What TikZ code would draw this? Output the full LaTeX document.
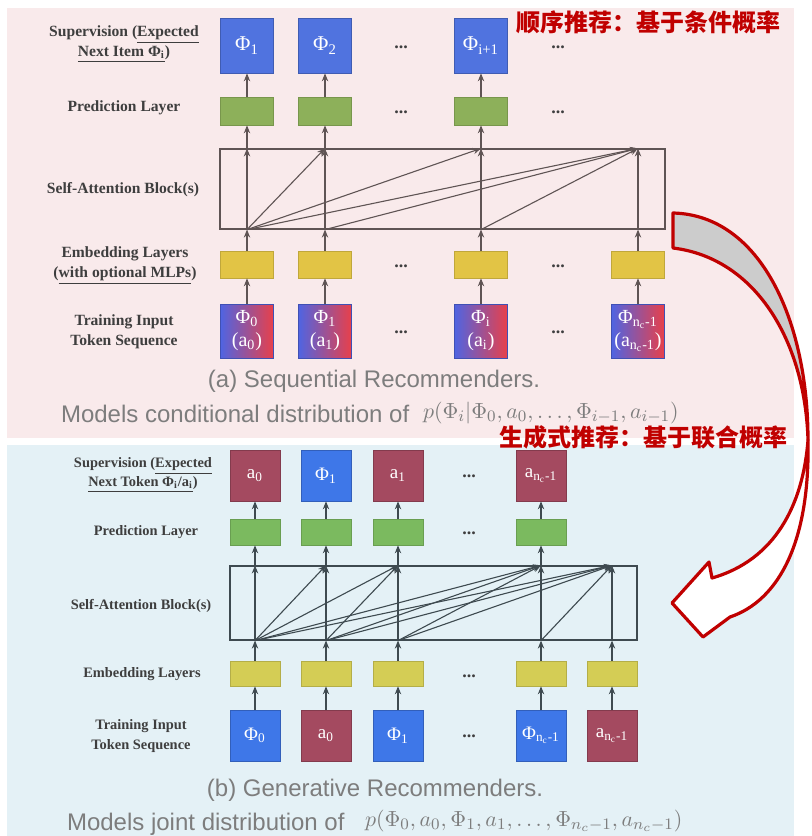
\documentclass[tikz,border=0pt]{standalone}
\usepackage{fontspec}
\setmainfont{Liberation Serif}
\newfontfamily\capfont{Liberation Sans}
\newfontfamily\cjk{Noto Sans CJK SC}
\usetikzlibrary{arrows.meta}
\definecolor{pinkbg}{RGB}{249,234,235}
\definecolor{bluebg}{RGB}{228,241,246}
\definecolor{csup}{RGB}{80,115,223}
\definecolor{ctokblue}{RGB}{62,119,232}
\definecolor{ctokred}{RGB}{164,74,96}
\definecolor{cpredA}{RGB}{141,176,90}
\definecolor{cpredB}{RGB}{123,186,95}
\definecolor{cembA}{RGB}{226,196,69}
\definecolor{cembB}{RGB}{212,205,85}
\definecolor{cgradblue}{RGB}{80,100,225}
\definecolor{cgradred}{RGB}{232,64,74}
\definecolor{clineA}{RGB}{95,84,84}
\definecolor{clineB}{RGB}{62,74,80}
\definecolor{clabel}{RGB}{62,62,62}
\definecolor{ccap}{RGB}{125,125,125}
\definecolor{chint}{RGB}{192,0,0}
\tikzset{%
    blk/.style={draw,line width=0.3pt,inner sep=0pt,text=white,align=center},
    supA/.style={blk,minimum width=26.5pt,minimum height=27.5pt,fill=csup,draw=csup!80!black,font=\fontsize{10.5}{11.5}\selectfont},
    predA/.style={blk,minimum width=26.5pt,minimum height=14pt,fill=cpredA,draw=cpredA!85!black},
    embA/.style={blk,minimum width=26.5pt,minimum height=13.5pt,fill=cembA,draw=cembA!85!black},
    inA/.style={blk,minimum width=26.5pt,minimum height=27pt,left color=cgradblue,right color=cgradred,draw=cgradblue!80!black,font=\fontsize{10}{11.5}\selectfont},
    tokB/.style={blk,minimum width=25pt,minimum height=25.5pt,font=\fontsize{9.5}{10}\selectfont},
    blueB/.style={tokB,fill=ctokblue,draw=ctokblue!80!black},
    redB/.style={tokB,fill=ctokred,draw=ctokred!80!black},
    predB/.style={blk,minimum width=25pt,minimum height=13pt,fill=cpredB,draw=cpredB!85!black},
    embB/.style={blk,minimum width=25pt,minimum height=12.5pt,fill=cembB,draw=cembB!85!black},
    lblA/.style={font=\bfseries\fontsize{7.8}{10}\selectfont,text=clabel,align=center},
    lblB/.style={font=\bfseries\fontsize{7.2}{9.8}\selectfont,text=clabel,align=center},
    dots/.style={font=\bfseries\fontsize{9}{9}\selectfont,text=clabel},
    attbox/.style={draw,line width=0.6pt,inner sep=0pt},
    arrA/.style={-{Stealth[length=4pt,width=3.2pt]},line width=0.55pt,draw=clineA},
    arrB/.style={-{Stealth[length=4pt,width=3.2pt]},line width=0.55pt,draw=clineB},
    captext/.style={font=\capfont\fontsize{12}{14}\selectfont,text=ccap},
    mathtext/.style={font=\fontsize{11.3}{13}\selectfont,text=ccap},
    hint/.style={font=\cjk\bfseries\fontsize{12}{14}\selectfont,text=chint},
    bigarr/.style={draw=chint,line width=1.6pt,line join=round}
}

\begin{document}
\begin{tikzpicture}[x=0.5pt,y=-0.5pt]
        \useasboundingbox (0,0) rectangle (811,836);
        \fill[pinkbg] (7,8) rectangle (794,438);
        \fill[bluebg] (7,445) rectangle (794,836);

        % (a) sequential recommenders
        \node[lblA] (l1a) at (124,44) {Supervision (\underline{Expected}\\\underline{Next Item Φ\textsubscript{i}})};
        \node[lblA] (l2a) at (124,108) {Prediction Layer};
        \node[lblA] (l3a) at (123,190) {Self-Attention Block(s)};
        \node[lblA] (l4a) at (125,266) {Embedding Layers\\(\underline{with optional MLPs})};
        \node[lblA] (l5a) at (124,332) {Training Input\\Token Sequence};

        \node[supA] (s1a) at (247,45.5) {Φ\textsubscript{1}};
        \node[supA] (s2a) at (325,45.5) {Φ\textsubscript{2}};
        \node[supA] (s3a) at (481,45.5) {Φ\textsubscript{i+1}};
        \node[dots] (ds1a) at (401,47) {...};
        \node[dots] (ds2a) at (558,47) {...};

        \node[predA] (p1a) at (247,111) {};
        \node[predA] (p2a) at (325,111) {};
        \node[predA] (p3a) at (481,111) {};
        \node[dots] (dp1a) at (401,112) {...};
        \node[dots] (dp2a) at (558,112) {...};

        \node[attbox,draw=clineA,minimum width=222.5pt,minimum height=40pt] (attA) at (442.5,189) {};

        \node[embA] (e1a) at (247,264.5) {};
        \node[embA] (e2a) at (325,264.5) {};
        \node[embA] (e3a) at (481,264.5) {};
        \node[embA] (e4a) at (638,264.5) {};
        \node[dots] (de1a) at (401,266) {...};
        \node[dots] (de2a) at (558,266) {...};

        \node[inA] (t1a) at (247,331) {Φ\textsubscript{0}\\(a\textsubscript{0})};
        \node[inA] (t2a) at (325,331) {Φ\textsubscript{1}\\(a\textsubscript{1})};
        \node[inA] (t3a) at (481,331) {Φ\textsubscript{i}\\(a\textsubscript{i})};
        \node[inA] (t4a) at (638,331) {Φ\textsubscript{n\textsubscript{c}-1}\\(a\textsubscript{n\textsubscript{c}-1})};
        \node[dots] (dt1a) at (401,332) {...};
        \node[dots] (dt2a) at (558,332) {...};

        \draw[arrA] (t1a) -- (e1a);
        \draw[arrA] (t2a) -- (e2a);
        \draw[arrA] (t3a) -- (e3a);
        \draw[arrA] (t4a) -- (e4a);

        \draw[arrA] (e1a) -- (e1a |- attA.south);
        \draw[arrA] (e2a) -- (e2a |- attA.south);
        \draw[arrA] (e3a) -- (e3a |- attA.south);
        \draw[arrA] (e4a) -- (e4a |- attA.south);

        \draw[arrA] (e1a |- attA.south) -- (e1a |- attA.north);
        \draw[arrA] (e2a |- attA.south) -- (e2a |- attA.north);
        \draw[arrA] (e3a |- attA.south) -- (e3a |- attA.north);
        \draw[arrA] (e4a |- attA.south) -- (e4a |- attA.north);

        \draw[arrA] (e1a |- attA.south) -- (e2a |- attA.north);
        \draw[arrA] (e1a |- attA.south) -- (e3a |- attA.north);
        \draw[arrA] (e1a |- attA.south) -- (e4a |- attA.north);
        \draw[arrA] (e2a |- attA.south) -- (e4a |- attA.north);
        \draw[arrA] (e3a |- attA.south) -- (e4a |- attA.north);

        \draw[arrA] (p1a |- attA.north) -- (p1a);
        \draw[arrA] (p2a |- attA.north) -- (p2a);
        \draw[arrA] (p3a |- attA.north) -- (p3a);

        \draw[arrA] (p1a) -- (s1a);
        \draw[arrA] (p2a) -- (s2a);
        \draw[arrA] (p3a) -- (s3a);

        \node[captext,anchor=base] (capa) at (374,387) {(a) Sequential Recommenders.};
        \node[captext,anchor=base west] (moda) at (54,422) {Models conditional distribution of};
        \node[mathtext,anchor=base west] (pa) at (416,418) {$p(\Phi_i|\Phi_0,a_0,\ldots,\Phi_{i-1},a_{i-1})$};

        % (b) generative recommenders
        \node[lblB] (l1b) at (143,475) {Supervision (\underline{Expected}\\\underline{Next Token Φ\textsubscript{i}/a\textsubscript{i}})};
        \node[lblB] (l2b) at (146,532) {Prediction Layer};
        \node[lblB] (l3b) at (141,606) {Self-Attention Block(s)};
        \node[lblB] (l4b) at (142,674) {Embedding Layers};
        \node[lblB] (l5b) at (141,736) {Training Input\\Token Sequence};

        \node[redB] (s1b) at (255,475.5) {a\textsubscript{0}};
        \node[blueB] (s2b) at (326,475.5) {Φ\textsubscript{1}};
        \node[redB] (s3b) at (398,475.5) {a\textsubscript{1}};
        \node[redB] (s4b) at (541,475.5) {a\textsubscript{n\textsubscript{c}-1}};
        \node[dots] (ds1b) at (469,476) {...};

        \node[predB] (p1b) at (255,532) {};
        \node[predB] (p2b) at (326,532) {};
        \node[predB] (p3b) at (398,532) {};
        \node[predB] (p4b) at (541,532) {};
        \node[dots] (dp1b) at (469,533) {...};

        \node[attbox,draw=clineB,minimum width=203.5pt,minimum height=37pt] (attB) at (433.5,603) {};

        \node[embB] (e1b) at (255,673.5) {};
        \node[embB] (e2b) at (326,673.5) {};
        \node[embB] (e3b) at (398,673.5) {};
        \node[embB] (e4b) at (541,673.5) {};
        \node[embB] (e5b) at (612,673.5) {};
        \node[dots] (de1b) at (469,676) {...};

        \node[blueB] (t1b) at (255,735.5) {Φ\textsubscript{0}};
        \node[redB] (t2b) at (326,735.5) {a\textsubscript{0}};
        \node[blueB] (t3b) at (398,735.5) {Φ\textsubscript{1}};
        \node[blueB] (t4b) at (541,735.5) {Φ\textsubscript{n\textsubscript{c}-1}};
        \node[redB] (t5b) at (612,735.5) {a\textsubscript{n\textsubscript{c}-1}};
        \node[dots] (dt1b) at (469,736) {...};

        \draw[arrB] (t1b) -- (e1b);
        \draw[arrB] (t2b) -- (e2b);
        \draw[arrB] (t3b) -- (e3b);
        \draw[arrB] (t4b) -- (e4b);
        \draw[arrB] (t5b) -- (e5b);

        \draw[arrB] (e1b) -- (e1b |- attB.south);
        \draw[arrB] (e2b) -- (e2b |- attB.south);
        \draw[arrB] (e3b) -- (e3b |- attB.south);
        \draw[arrB] (e4b) -- (e4b |- attB.south);
        \draw[arrB] (e5b) -- (e5b |- attB.south);

        \draw[arrB] (e1b |- attB.south) -- (e1b |- attB.north);
        \draw[arrB] (e2b |- attB.south) -- (e2b |- attB.north);
        \draw[arrB] (e3b |- attB.south) -- (e3b |- attB.north);
        \draw[arrB] (e4b |- attB.south) -- (e4b |- attB.north);
        \draw[arrB] (e5b |- attB.south) -- (e5b |- attB.north);

        \draw[arrB] (e1b |- attB.south) -- (e2b |- attB.north);
        \draw[arrB] (e1b |- attB.south) -- (e3b |- attB.north);
        \draw[arrB] (e1b |- attB.south) -- (e4b |- attB.north);
        \draw[arrB] (e1b |- attB.south) -- (e5b |- attB.north);
        \draw[arrB] (e2b |- attB.south) -- (e3b |- attB.north);
        \draw[arrB] (e2b |- attB.south) -- (e4b |- attB.north);
        \draw[arrB] (e2b |- attB.south) -- (e5b |- attB.north);
        \draw[arrB] (e3b |- attB.south) -- (e4b |- attB.north);
        \draw[arrB] (e3b |- attB.south) -- (e5b |- attB.north);
        \draw[arrB] (e4b |- attB.south) -- (e5b |- attB.north);

        \draw[arrB] (p1b |- attB.north) -- (p1b);
        \draw[arrB] (p2b |- attB.north) -- (p2b);
        \draw[arrB] (p3b |- attB.north) -- (p3b);
        \draw[arrB] (p4b |- attB.north) -- (p4b);

        \draw[arrB] (p1b) -- (s1b);
        \draw[arrB] (p2b) -- (s2b);
        \draw[arrB] (p3b) -- (s3b);
        \draw[arrB] (p4b) -- (s4b);

        \node[captext,anchor=base] (capb) at (375,796) {(b) Generative Recommenders.};
        \node[captext,anchor=base west] (modb) at (60,830) {Models joint distribution of};
        \node[mathtext,anchor=base west] (pb) at (358,826) {$p(\Phi_0,a_0,\Phi_1,a_1,\ldots,\Phi_{n_c-1},a_{n_c-1})$};

        % twisted arrow from (a) to (b)
        \draw[bigarr,fill=gray!40] (673,213) .. controls (760,215) and (808,320) .. (808,440)
            .. controls (805,340) and (755,258) .. (673,248) -- cycle;
        \draw[bigarr,fill=white] (808,440) .. controls (810,540) and (780,600) .. (730,617)
            -- (703,637) -- (672,603) -- (709,562) -- (712,578)
            .. controls (775,560) and (803,505) .. (808,440) -- cycle;

        \node[hint] (h1) at (648,22) {顺序推荐：基于条件概率};
        \node[hint] (h2) at (643,437) {生成式推荐：基于联合概率};
    \end{tikzpicture}
\end{document}
